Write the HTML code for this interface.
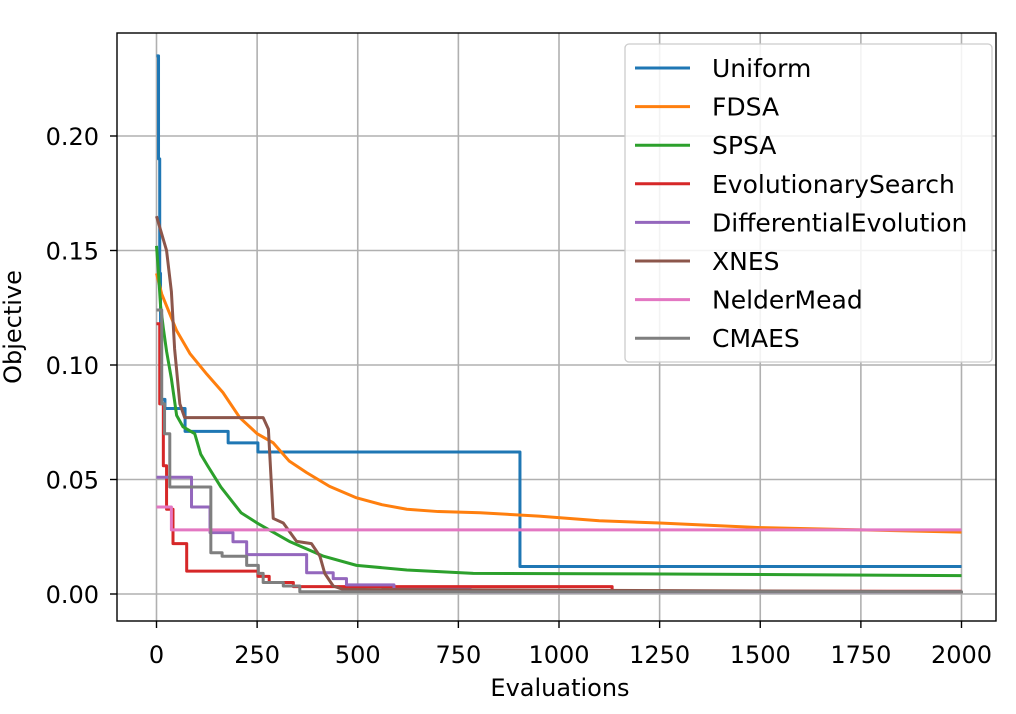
<!DOCTYPE html>
<html><head><meta charset="utf-8"><style>
body{margin:0;background:#fff;}
svg text{font-family:"DejaVu Sans","Liberation Sans",sans-serif;fill:#000;}
</style></head><body>
<svg id="chart" width="1016" height="709" viewBox="0 0 1016 709" xmlns="http://www.w3.org/2000/svg">
<rect width="1016" height="709" fill="#fff"/>
<g id="grid"></g>
<g id="series"></g>
<rect x="117" y="33" width="879" height="588" fill="none" stroke="#000" stroke-width="1.4"/>
<g id="ticks"></g>
<text x="560" y="696" font-size="24" text-anchor="middle">Evaluations</text>
<text x="0" y="0" font-size="24" text-anchor="middle" transform="translate(21,327) rotate(-90)">Objective</text>
<g id="legend"></g>
</svg>
<script>
const xTicks=[0,250,500,750,1000,1250,1500,1750,2000];
const yTicks=[0,0.05,0.10,0.15,0.20];
const yTickLabels=["0.00","0.05","0.10","0.15","0.20"];
const seriesNames=["Uniform","FDSA","SPSA","EvolutionarySearch","DifferentialEvolution","XNES","NelderMead","CMAES"];
const uniformX=[0,5,8,10,21,71,178,252,903,2000];
const uniformY=[0.235,0.19,0.14,0.085,0.081,0.071,0.066,0.062,0.012,0.012];
const fdsaX=[0,13,50,83,125,165,207,250,290,330,373,430,497,560,622,700,804,950,1100,1250,1500,1750,2000];
const fdsaY=[0.14,0.131,0.115,0.105,0.096,0.088,0.077,0.07,0.066,0.058,0.053,0.047,0.042,0.039,0.037,0.036,0.0355,0.034,0.032,0.031,0.029,0.028,0.027];
const spsaX=[0,5,10,17,25,37,50,66,95,110,127,160,210,250,332,415,497,622,787,1200,2000];
const spsaY=[0.152,0.14,0.126,0.116,0.106,0.094,0.078,0.073,0.07,0.061,0.056,0.0467,0.0355,0.031,0.0228,0.0165,0.0125,0.0105,0.009,0.0088,0.008];
const evoX=[0,8,17,25,41,75,252,280,340,1132,2000];
const evoY=[0.118,0.083,0.056,0.037,0.022,0.010,0.0077,0.005,0.0032,0.0012,0.0012];
const deX=[0,87,133,190,224,373,439,472,590,780,2000];
const deY=[0.051,0.038,0.0268,0.0228,0.0172,0.0093,0.0067,0.004,0.002,0.001,0.001];
const xnesX=[0,25,37,45,58,70,265,278,290,315,348,385,406,418,439,464,2000];
const xnesY=[0.165,0.15,0.132,0.107,0.083,0.077,0.077,0.072,0.033,0.031,0.023,0.022,0.0165,0.009,0.0035,0.002,0.001];
const nmX=[0,37,2000];
const nmY=[0.038,0.028,0.028];
const cmaX=[0,13,20,33,133,135,163,224,253,265,315,356,2000];
const cmaY=[0.124,0.083,0.07,0.0467,0.0467,0.018,0.0165,0.0125,0.009,0.005,0.0035,0.001,0.0003];
const colors=["#1f77b4","#ff7f0e","#2ca02c","#d62728","#9467bd","#8c564b","#e377c2","#7f7f7f"];
const X=v=>156.5+v*0.4025;
const Y=v=>594-v*2290;
const NS="http://www.w3.org/2000/svg";
function mk(t,a,p){const e=document.createElementNS(NS,t);for(const k in a)e.setAttribute(k,a[k]);p.appendChild(e);return e;}
const grid=document.getElementById('grid'),ticks=document.getElementById('ticks');
xTicks.forEach(v=>{
  const l=mk('line',{x1:X(v),x2:X(v),y1:33,y2:621,stroke:'#b0b0b0','stroke-width':1.6},grid);
  
  
  mk('line',{x1:X(v),x2:X(v),y1:621,y2:628,stroke:'#000','stroke-width':1.4},ticks);
  const t=mk('text',{x:X(v),y:663,'font-size':24,'text-anchor':'middle'},ticks);
  t.textContent=v;
  
  
});
yTicks.forEach((v,i)=>{
  const l=mk('line',{x1:117,x2:996,y1:Y(v),y2:Y(v),stroke:'#b0b0b0','stroke-width':1.6},grid);
  
  
  mk('line',{x1:110,x2:117,y1:Y(v),y2:Y(v),stroke:'#000','stroke-width':1.4},ticks);
  const t=mk('text',{x:99,y:Y(v)+9,'font-size':24,'text-anchor':'end'},ticks);
  t.textContent=yTickLabels[i];
  
  
});
function stepPath(xs,ys){let d='M'+X(xs[0])+','+Y(ys[0]);for(let i=1;i<xs.length;i++){d+=' H'+X(xs[i])+' V'+Y(ys[i]);}return d;}
function linePath(xs,ys){return xs.map((x,i)=>(i?'L':'M')+X(x)+','+Y(ys[i])).join(' ');}
const sdata=[[uniformX,uniformY,1],[fdsaX,fdsaY,0],[spsaX,spsaY,0],[evoX,evoY,1],[deX,deY,1],[xnesX,xnesY,0],[nmX,nmY,1],[cmaX,cmaY,1]];
const sg=document.getElementById('series');
sdata.forEach((s,i)=>{
  const p=mk('path',{d:s[2]?stepPath(s[0],s[1]):linePath(s[0],s[1]),fill:'none',stroke:colors[i],'stroke-width':3,'stroke-linejoin':'round'},sg);
  
  
});
const lg=document.getElementById('legend');
const box=mk('rect',{x:625,y:44,width:367,height:318,rx:4,fill:'#fff','fill-opacity':0.85,stroke:'#ccc','stroke-width':1.3},lg);


seriesNames.forEach((n,i)=>{
  const y=68+i*38.6;
  const g=mk('g',{},lg);
  
  
  mk('line',{x1:635,x2:690,y1:y,y2:y,stroke:colors[i],'stroke-width':3},g);
  const t=mk('text',{x:712,y:y+9,'font-size':25},g);
  t.textContent=n;
});
</script>
</body></html>
